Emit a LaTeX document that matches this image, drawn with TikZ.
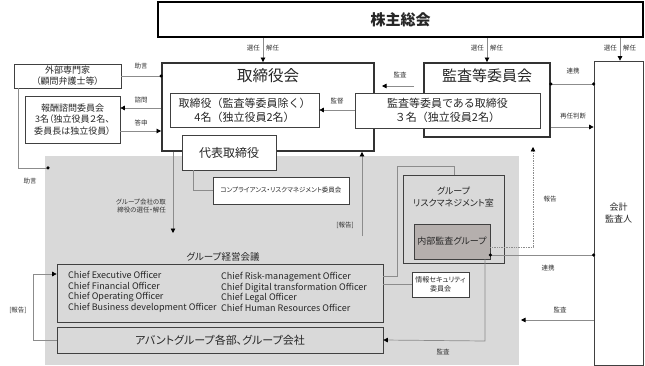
\documentclass[tikz,border=0pt]{standalone}
\usepackage{fontspec}
\setmainfont{Noto Sans CJK JP}[RawFeature=+palt]
\newfontfamily\fw{Noto Sans CJK JP}
\usetikzlibrary{arrows.meta}
\newcommand{\fz}[2]{\fontsize{#1}{#2}\selectfont}
\tikzset{
  box/.style={draw=black!75, line width=0.7pt, fill=white, inner sep=0pt, text=black!85, align=center},
  heavy/.style={draw=black!80, line width=1.8pt, fill=white, inner sep=0pt, text=black!85, align=center},
  conn/.style={draw=black!45, line width=0.7pt},
  tipend/.style={-{Triangle[length=4.5pt,width=4.5pt,color=black]}},
  lbl/.style={font=\fz{6.5}{8}, text=black!80, inner sep=0pt, align=center},
  dot/.style={circle, fill=black, inner sep=0pt, minimum size=3.5pt},
  txt/.style={inner sep=0pt, text=black!85, align=center},
}
\begin{document}
\begin{tikzpicture}[x=1pt,y=-1pt]
\useasboundingbox (0,0) rectangle (645,366);
% grey area
\fill[gray!30] (45,156) rectangle (519,365);

% top
\node[heavy, draw=black, minimum width=485pt, minimum height=35pt, font=\fz{15}{18}\bfseries] (kabu) at (400.5,19.5) {株主総会};

% board
\node[heavy, minimum width=212pt, minimum height=88pt] (tori) at (268,107) {};
\node[txt, font=\fz{15.5}{18}] (toriT) at (268,76) {取締役会};
\node[box, minimum width=149pt, minimum height=34pt, font=\fw\fz{11}{14}] (toriIn) at (244.5,110) {取締役（監査等委員除く）\\4名（独立役員2名）};
\node[box, minimum width=94pt, minimum height=35pt, font=\fz{12}{14}] (daihyo) at (229,152.5) {代表取締役};
\node[box, minimum width=136pt, minimum height=27pt, font=\fz{6.5}{8}] (comp) at (281,190.5) {コンプライアンス・リスクマネジメント委員会};

% audit committee
\node[heavy, minimum width=126pt, minimum height=74pt] (kansa) at (487,100) {};
\node[txt, font=\fz{15}{18}] (kansaT) at (487,76) {監査等委員会};
\node[box, minimum width=185pt, minimum height=35pt, font=\fw\fz{11}{14}] (kansaIn) at (447.5,110.5) {監査等委員である取締役\\３名（独立役員2名）};

% accounting auditor
\node[box, minimum width=49pt, minimum height=304pt, font=\fz{9}{11.5}] (kaikei) at (618.5,213) {会計\\監査人};

% left boxes
\node[box, minimum width=107pt, minimum height=24pt, font=\fz{9}{11}] (gaibu) at (67.5,76) {外部専門家\\（顧問弁護士等）};
\node[box, minimum width=95pt, minimum height=47pt, font=\fz{9}{11.5}] (hoshu) at (72.5,119.5) {報酬諮問委員会\\3名（独立役員２名、\\委員長は独立役員）};

% risk management
\node[box, fill=gray!30, minimum width=101pt, minimum height=88pt] (grm) at (453.5,219) {};
\node[txt, font=\fz{9}{12}] (grmT) at (453.5,197) {グループ\\リスクマネジメント室};
\node[box, fill={rgb,255:red,181;green,175;blue,173}, minimum width=76pt, minimum height=35pt, font=\fz{9}{11}] (naibu) at (452,241.5) {内部監査グループ};
\node[box, minimum width=57pt, minimum height=25pt, font=\fz{7}{9}] (joho) at (440.5,284.5) {情報セキュリティ\\委員会};

% group management
\node[txt, font=\fz{9.5}{11}] (gmT) at (223,257) {グループ経営会議};
\node[box, fill=gray!30, minimum width=326pt, minimum height=58pt] (gm) at (220,293) {};
\node[txt, align=left, anchor=west, font=\fz{9}{10.6}] (gmL) at (68,292) {Chief Executive Officer\\Chief Financial Officer\\Chief Operating Officer\\Chief Business development Officer};
\node[txt, align=left, anchor=west, font=\fz{9}{10.6}] (gmR) at (221,292) {Chief Risk-management Officer\\Chief Digital transformation Officer\\Chief Legal Officer\\Chief Human Resources Officer};
\node[box, fill=gray!30, minimum width=326pt, minimum height=26pt, font=\fz{11}{14}] (avant) at (220,340) {アバントグループ各部、グループ会社};

% ---- connectors ----
% election from shareholders
\draw[conn, tipend] (kabu.south -| 263,0) -- (tori.north -| 263,0);
\draw[conn, tipend] (kabu.south -| 487,0) -- (kansa.north -| 487,0);
\draw[conn, tipend] (kabu.south -| 620,0) -- (kaikei.north -| 620,0);
\node[lbl, anchor=east] (s1) at (260,48) {選任};
\node[lbl, anchor=west] (k1) at (266,48) {解任};
\node[lbl, anchor=east] (s2) at (484,48) {選任};
\node[lbl, anchor=west] (k2) at (490,48) {解任};
\node[lbl, anchor=east] (s3) at (617,48) {選任};
\node[lbl, anchor=west] (k3) at (623,48) {解任};

% external expert
\draw[conn] (gaibu.east) -- (tori.west |- gaibu.east);
\node[dot] (dg) at (tori.west |- gaibu.east) {};
\node[lbl] (l_jogen1) at (141,66) {助言};
\draw[conn] (gaibu.south -| 18,0) -- (18,168) -- (48,168);
\node[dot] (dg2) at (48,168) {};
\node[lbl] (l_jogen2) at (30,181) {助言};

% compensation committee
\draw[conn, tipend] (tori.west |- 0,108) -- (hoshu.east |- 0,108);
\node[lbl] (l_shimon) at (141,100) {諮問};
\draw[conn, tipend] (hoshu.east |- 0,131) -- (tori.west |- 0,131);
\node[lbl] (l_toushin) at (141,123) {答申};

% audit committee -> board
\draw[conn, tipend] (414,86) -- (382,86);
\node[lbl] (l_kansa1) at (400,75) {監査};
\draw[conn, tipend] (kansaIn.west |- toriIn.east) -- (toriIn.east);
\node[lbl] (l_kantoku) at (337,101) {監督};

% audit committee <-> accounting auditor
\draw[conn] (kansa.east |- 0,84) -- (kaikei.west |- 0,84);
\node[dot] (dk1) at (kansa.east |- 0,84) {};
\node[dot] (dk2) at (kaikei.west |- 0,84) {};
\node[lbl] (l_renkei1) at (573,71) {連携};
\draw[conn, tipend] (kansa.east |- 0,127) -- (kaikei.west |- 0,127);
\node[lbl] (l_sainin) at (573,116) {再任判断};

% representative director -> compliance
\draw[conn] (daihyo.south -| 193,0) -- (193,190.5) -- (comp.west);

% board -> group
\draw[conn, tipend] (tori.south -| 173,0) -- (173,233);
\node[lbl, align=right, anchor=east] (l_group) at (166,206) {グループ会社の取\\締役の選任・解任};
\draw[conn, tipend] (362,236) -- (tori.south -| 362,0);
\node[lbl] (l_hokoku1) at (345,225) {[報告]};

% risk management links
\draw[conn] (grm.north -| 454,0) -- (454,166) -- (397,166) -- (397,276) -- (gm.east |- 0,276);
\draw[conn] (gm.east |- joho.west) -- (joho.west);

% internal audit
\draw[conn, densely dotted, tipend] (naibu.east |- 0,247) -- (533,247) -- (533,147);
\node[lbl] (l_hokoku2) at (550,199) {報告};
\draw[conn] (naibu.east |- 0,255) -- (kaikei.west |- 0,255);
\node[dot] (dn1) at (naibu.east |- 0,255) {};
\node[dot] (dn2) at (kaikei.west |- 0,255) {};
\node[lbl] (l_renkei2) at (548,268) {連携};
\draw[conn, tipend] (naibu.south -| 485,0) -- (485,341) -- (avant.east);
\node[lbl] (l_kansa3) at (443,352) {監査};
\draw[conn, tipend] (kaikei.west |- 0,320) -- (521,320);
\node[lbl] (l_kansa2) at (560,310) {監査};

% report loop
\draw[conn, tipend] (avant.west) -- (33,340) -- (33,274) -- (gm.west |- 0,274);
\node[lbl] (l_hokoku3) at (18,310) {[報告]};
\end{tikzpicture}
\end{document}
